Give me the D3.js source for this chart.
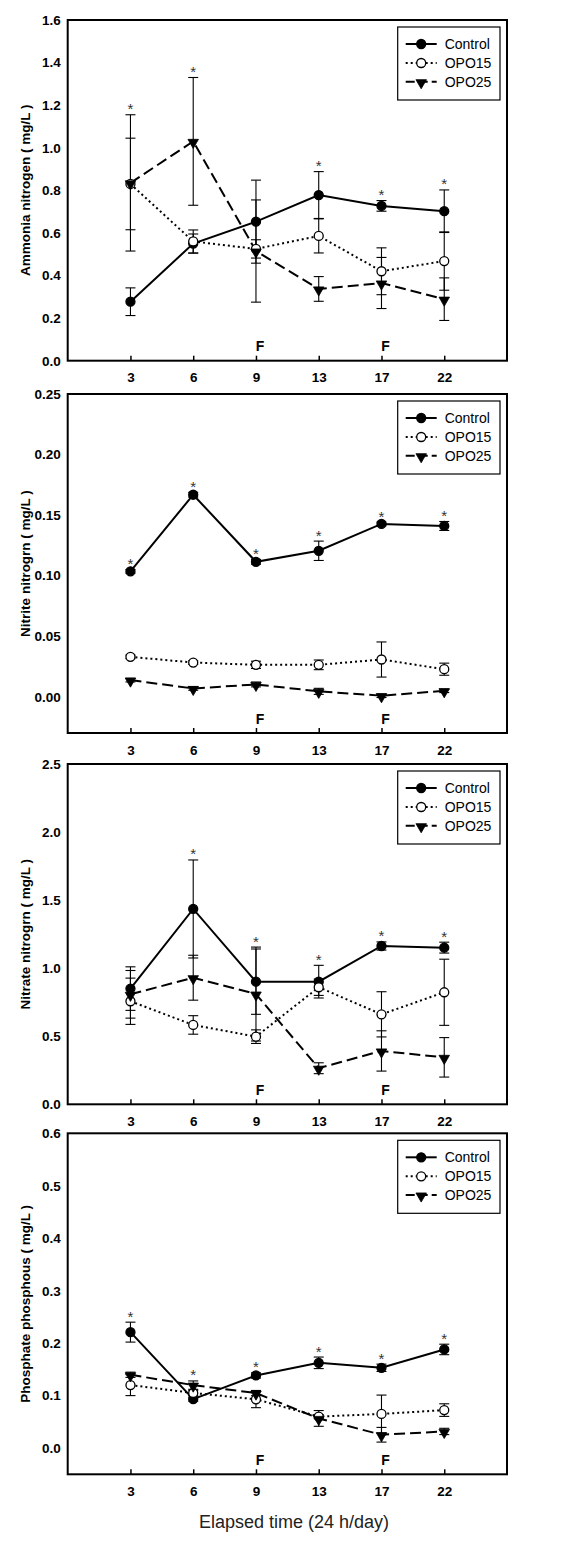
<!DOCTYPE html>
<html><head><meta charset="utf-8">
<script src="https://cdn.jsdelivr.net/npm/d3@7"></script>
<style>body{margin:0;background:#fff}svg{display:block}</style>
</head><body>
<svg id="c" width="563" height="1542"></svg>
<script>
// ---------- DATA ----------
const days = ["3", "6", "9", "13", "17", "22"];
const seriesNames = ["Control", "OPO15", "OPO25"];
const fDays = ["9", "17"];
const xTitle = "Elapsed time (24 h/day)";

// Ammonia nitrogen
const ammoniaControl = [0.277, 0.55, 0.653, 0.778, 0.727, 0.702];
const ammoniaControlErr = [0.065, 0.045, 0.195, 0.11, 0.025, 0.10];
const ammoniaOPO15 = [0.83, 0.56, 0.525, 0.586, 0.42, 0.468];
const ammoniaOPO15Err = [0.215, 0.054, 0.043, 0.08, 0.11, 0.137];
const ammoniaOPO25 = [0.835, 1.03, 0.515, 0.337, 0.365, 0.289];
const ammoniaOPO25Err = [0.32, 0.30, 0.24, 0.058, 0.12, 0.10];
const ammoniaStars = [1, 1, 0, 1, 1, 1];
const ammoniaTicks = [0, 0.2, 0.4, 0.6, 0.8, 1.0, 1.2, 1.4, 1.6];

// Nitrite nitrogen
const nitriteControl = [0.1035, 0.1668, 0.1114, 0.1205, 0.1427, 0.141];
const nitriteControlErr = [0.0015, 0.002, 0.002, 0.008, 0.0015, 0.0037];
const nitriteOPO15 = [0.0329, 0.0282, 0.0263, 0.0263, 0.0307, 0.0227];
const nitriteOPO15Err = [0.0015, 0.0015, 0.003, 0.004, 0.0145, 0.005];
const nitriteOPO25 = [0.0137, 0.0068, 0.0101, 0.0044, 0.0008, 0.0049];
const nitriteOPO25Err = [0.0015, 0.0015, 0.002, 0.0025, 0.0015, 0.0015];
const nitriteStars = [1, 1, 1, 1, 1, 1];
const nitriteTicks = [0, 0.05, 0.10, 0.15, 0.20, 0.25];

// Nitrate nitrogen
const nitrateControl = [0.85, 1.435, 0.901, 0.901, 1.163, 1.151];
const nitrateControlErr = [0.16, 0.36, 0.24, 0.12, 0.03, 0.04];
const nitrateOPO15 = [0.757, 0.583, 0.497, 0.86, 0.661, 0.823];
const nitrateOPO15Err = [0.17, 0.068, 0.05, 0.06, 0.166, 0.243];
const nitrateOPO25 = [0.808, 0.93, 0.81, 0.265, 0.392, 0.345];
const nitrateOPO25Err = [0.175, 0.165, 0.345, 0.04, 0.148, 0.145];
const nitrateStars = [0, 1, 1, 1, 1, 1];
const nitrateTicks = [0, 0.5, 1.0, 1.5, 2.0, 2.5];

// Phosphate phosphorus
const phosphateControl = [0.221, 0.0933, 0.1384, 0.1625, 0.153, 0.188];
const phosphateControlErr = [0.019, 0.004, 0.005, 0.011, 0.007, 0.01];
const phosphateOPO15 = [0.12, 0.105, 0.093, 0.06, 0.065, 0.0724];
const phosphateOPO15Err = [0.02, 0.005, 0.016, 0.004, 0.036, 0.012];
const phosphateOPO25 = [0.1397, 0.12, 0.1048, 0.0565, 0.0254, 0.0317];
const phosphateOPO25Err = [0.005, 0.008, 0.005, 0.015, 0.014, 0.006];
const phosphateStars = [1, 1, 1, 1, 1, 1];
const phosphateTicks = [0, 0.1, 0.2, 0.3, 0.4, 0.5, 0.6];

const panelTitles = ["Ammonia nitrogen ( mg/L )", "Nitrite nitrogrn ( mg/L )", "Nitrate nitrogrn ( mg/L )", "Phosphate phosphous ( mg/L )"];

// ---------- BUILD ----------
const panels = [
  {title: panelTitles[0], domain: [0, 1.6], ticks: ammoniaTicks, fmt: ".1f",
   vals: [ammoniaControl, ammoniaOPO15, ammoniaOPO25], errs: [ammoniaControlErr, ammoniaOPO15Err, ammoniaOPO25Err], stars: ammoniaStars},
  {title: panelTitles[1], domain: [-0.03, 0.25], ticks: nitriteTicks, fmt: ".2f",
   vals: [nitriteControl, nitriteOPO15, nitriteOPO25], errs: [nitriteControlErr, nitriteOPO15Err, nitriteOPO25Err], stars: nitriteStars},
  {title: panelTitles[2], domain: [0, 2.5], ticks: nitrateTicks, fmt: ".1f",
   vals: [nitrateControl, nitrateOPO15, nitrateOPO25], errs: [nitrateControlErr, nitrateOPO15Err, nitrateOPO25Err], stars: nitrateStars},
  {title: panelTitles[3], domain: [-0.05, 0.6], ticks: phosphateTicks, fmt: ".1f",
   vals: [phosphateControl, phosphateOPO15, phosphateOPO25], errs: [phosphateControlErr, phosphateOPO15Err, phosphateOPO25Err], stars: phosphateStars}
];

// ---------- LAYOUT ----------
const FONT = "Arial, 'Liberation Sans', Helvetica, sans-serif";
const L = 67.7, R = 507;
const tops = [20, 394, 764, 1133.3];
const bottoms = [360.7, 733, 1104.3, 1474.3];
const styles = [
  {dash: null, fill: "#000"},
  {dash: "2,3", fill: "#fff"},
  {dash: "11,5", fill: "#000"}
];

const svg = d3.select("#c");
svg.append("rect").attr("width", 563).attr("height", 1542).attr("fill", "#fff");

function marker(sel, k, cx, cy) {
  if (k === 2) {
    sel.append("path")
      .attr("d", d3.symbol(d3.symbolTriangle, 48)())
      .attr("transform", `translate(${cx},${cy + 1}) rotate(180)`)
      .attr("fill", "#000").attr("stroke", "#000").attr("stroke-width", 0.8);
  } else {
    sel.append("circle").attr("cx", cx).attr("cy", cy).attr("r", 4.5)
      .attr("fill", styles[k].fill).attr("stroke", "#000").attr("stroke-width", 1.3);
  }
}

panels.forEach((p, pi) => {
  const top = tops[pi], bottom = bottoms[pi];
  const g = svg.append("g");
  const x = d3.scalePoint().domain(days).range([L, R]).padding(1);
  const y = d3.scaleLinear().domain(p.domain).range([bottom, top]);

  // y axis labels
  const yAx = g.append("g").attr("transform", `translate(${L},0)`)
    .call(d3.axisLeft(y).tickValues(p.ticks).tickFormat(d3.format(p.fmt)).tickSize(0).tickPadding(7));
  yAx.select(".domain").remove();
  yAx.selectAll("text").attr("font-family", FONT).attr("font-size", 13.5).attr("font-weight", "bold").attr("fill", "#000");

  // x axis
  const xAx = g.append("g").attr("transform", `translate(0,${bottom})`)
    .call(d3.axisBottom(x).tickSizeInner(-5).tickSizeOuter(0).tickPadding(12));
  xAx.select(".domain").remove();
  xAx.selectAll("line").attr("stroke", "#000").attr("stroke-width", 1.5);
  xAx.selectAll("text").attr("font-family", FONT).attr("font-size", 13.5).attr("font-weight", "bold").attr("fill", "#000");

  // frame
  g.append("rect").attr("x", L).attr("y", top).attr("width", R - L).attr("height", bottom - top)
    .attr("fill", "none").attr("stroke", "#000").attr("stroke-width", 2);

  // y title
  g.append("text").attr("transform", `translate(25,${(top + bottom) / 2}) rotate(-90)`)
    .attr("text-anchor", "middle").attr("dominant-baseline", "central")
    .attr("font-family", FONT).attr("font-size", 13.5).attr("font-weight", "bold").text(p.title);

  // error bars
  p.vals.forEach((vals, k) => {
    const eg = g.append("g").attr("stroke", "#000").attr("stroke-width", 1.1);
    vals.forEach((v, i) => {
      const e = p.errs[k][i], cx = x(days[i]);
      const y1 = y(v + e), y2 = y(v - e);
      eg.append("line").attr("x1", cx).attr("x2", cx).attr("y1", y1).attr("y2", y2);
      eg.append("line").attr("x1", cx - 5).attr("x2", cx + 5).attr("y1", y1).attr("y2", y1);
      eg.append("line").attr("x1", cx - 5).attr("x2", cx + 5).attr("y1", y2).attr("y2", y2);
    });
  });

  // lines
  p.vals.forEach((vals, k) => {
    const line = d3.line().x((d, i) => x(days[i])).y(d => y(d));
    g.append("path").attr("d", line(vals)).attr("fill", "none").attr("stroke", "#000")
      .attr("stroke-width", 2).attr("stroke-dasharray", styles[k].dash);
  });

  // markers
  p.vals.forEach((vals, k) => {
    vals.forEach((v, i) => marker(g, k, x(days[i]), y(v)));
  });

  // asterisks
  p.stars.forEach((s, i) => {
    if (!s) return;
    const topY = d3.min(p.vals.map((vals, k) => y(vals[i] + p.errs[k][i])));
    g.append("text").attr("x", x(days[i])).attr("y", topY - 0.5).attr("text-anchor", "middle")
      .attr("font-family", FONT).attr("font-size", 15).attr("fill", "#333").text("*");
  });

  // F labels
  fDays.forEach(d => {
    g.append("text").attr("x", x(d) + 4).attr("y", bottom - 9.5).attr("text-anchor", "middle")
      .attr("font-family", FONT).attr("font-size", 14).attr("font-weight", "bold").text("F");
  });

  // legend
  const lx = 397.7, ly = top + 7, lw = 102.3, lh = 73;
  const lg = g.append("g");
  lg.append("rect").attr("x", lx).attr("y", ly).attr("width", lw).attr("height", lh)
    .attr("fill", "#fff").attr("stroke", "#000").attr("stroke-width", 1.2);
  const rows = [17, 36, 54.7];
  seriesNames.forEach((name, k) => {
    const ry = ly + rows[k];
    lg.append("line").attr("x1", lx + 8).attr("x2", lx + 39).attr("y1", ry).attr("y2", ry)
      .attr("stroke", "#000").attr("stroke-width", 2).attr("stroke-dasharray", k === 2 ? "9,4" : styles[k].dash);
    marker(lg, k, lx + 23.5, ry);
    lg.append("text").attr("x", lx + 47).attr("y", ry).attr("dominant-baseline", "central")
      .attr("font-family", FONT).attr("font-size", 14).attr("fill", "#000").text(name);
  });
});

// x title
svg.append("text").attr("x", 294).attr("y", 1522).attr("text-anchor", "middle").attr("dominant-baseline", "central")
  .attr("font-family", FONT).attr("font-size", 18).attr("fill", "#222").text(xTitle);
</script>
</body></html>
